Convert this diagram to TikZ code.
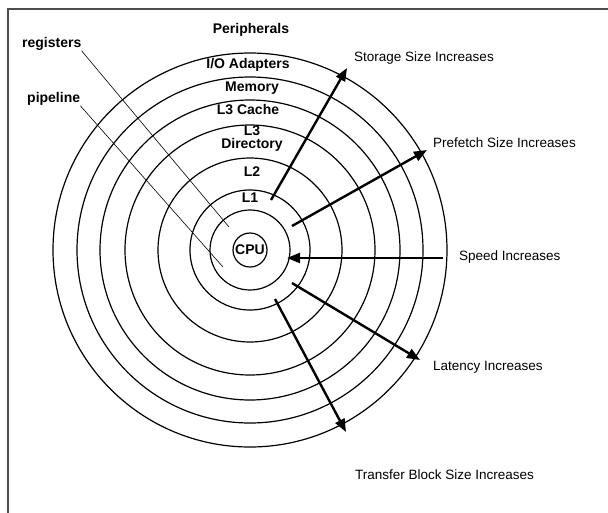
\documentclass[tikz,border=0pt]{standalone}
\usepackage{fontspec}
\setmainfont{Liberation Sans}
\usetikzlibrary{arrows.meta}
\begin{document}
\begin{tikzpicture}[x=1pt, y=-1pt,
  ring/.style={black, line width=1.2pt},
  level/.style={font=\fontsize{14}{13}\selectfont\bfseries, inner sep=0pt, align=center},
  trendlabel/.style={font=\fontsize{13.5}{15}\selectfont, inner sep=0pt, anchor=west},
  trend/.style={black, line width=2.4pt, -{Triangle[length=13pt, width=10pt]}},
  leader/.style={black, line width=0.6pt}]
  \useasboundingbox (0,0) rectangle (608,512);
  \clip (0,0) rectangle (608,512);
  \draw [gray!60!black, line width=1.2pt] (8,9) rectangle (620,525);

  % rings round the CPU
  \coordinate (c) at (250,250);
  \foreach \r in {40,60,92,125,150,173,197}
    \draw [ring] (c) circle [radius=\r];
  \node [ring, draw, circle, minimum size=34pt, inner sep=0pt,
    font=\fontsize{14}{14}\selectfont\bfseries] (cpu) at (c) {CPU};

  % level names
  \node [level] (periph) at (251,30) {Peripherals};
  \node [level] (io) at (248,65) {I/O Adapters};
  \node [level] (mem) at (252,88) {Memory};
  \node [level] (l3c) at (248,110) {L3 Cache};
  \node [level] (l3d) at (252,139) {L3\\Directory};
  \node [level] (l2) at (252,172) {L2};
  \node [level] (l1) at (250,198) {L1};

  % labels with leaders
  \node [level, anchor=west] (reg) at (22,44) {registers};
  \node [level, anchor=west] (pipe) at (27,99) {pipeline};
  \coordinate (regend) at (229,227);
  \coordinate (pipeend) at (223,267);
  \draw [leader] (reg.south east) -- (regend);
  \draw [leader] (pipe.south east) -- (pipeend);

  % trends
  \coordinate (storfrom) at (271,200);
  \coordinate (storto) at (347,68);
  \coordinate (prefrom) at (292,226);
  \coordinate (preto) at (427,150);
  \coordinate (speedfrom) at (443,258);
  \coordinate (speedto) at (287,258);
  \coordinate (latfrom) at (292,283);
  \coordinate (latto) at (420,360);
  \coordinate (xferfrom) at (275,299);
  \coordinate (xferto) at (346,432);
  \draw [trend] (storfrom) -- (storto);
  \draw [trend] (prefrom) -- (preto);
  \draw [trend] (speedfrom) -- (speedto);
  \draw [trend] (latfrom) -- (latto);
  \draw [trend] (xferfrom) -- (xferto);

  \node [trendlabel] (stor) at (354,58) {Storage Size Increases};
  \node [trendlabel] (pre) at (433,143) {Prefetch Size Increases};
  \node [trendlabel] (speed) at (459,257) {Speed Increases};
  \node [trendlabel] (lat) at (433,367) {Latency Increases};
  \node [trendlabel] (xfer) at (355,475) {Transfer Block Size Increases};
\end{tikzpicture}
\end{document}
